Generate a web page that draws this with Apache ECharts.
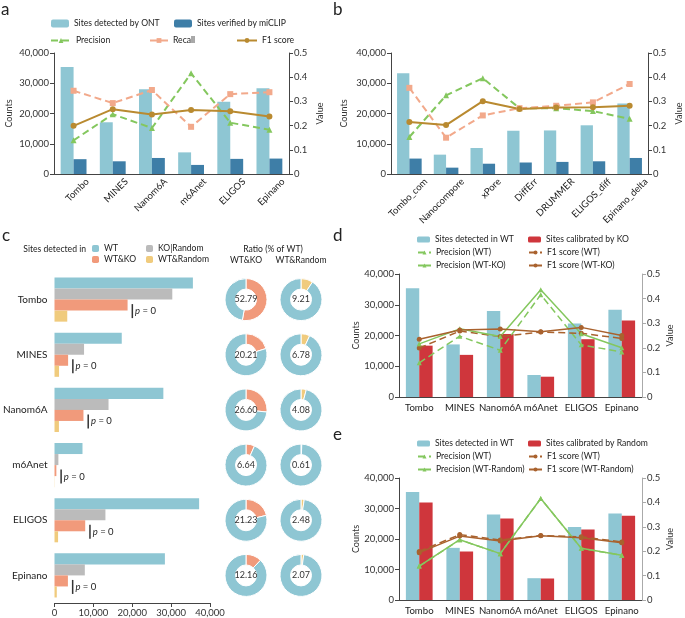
<!DOCTYPE html>
<html>
<head>
<meta charset="utf-8">
<script src="https://cdn.jsdelivr.net/npm/echarts@6/dist/echarts.min.js"></script>
<style>
  html, body { margin: 0; background: #fff; }
  #chart { width: 685px; height: 618px; }
</style>
</head>
<body>
<div id="chart"></div>
<script>
// categories
const tools = ["Tombo", "MINES", "Nanom6A", "m6Anet", "ELIGOS", "Epinano"];
const compTools = ["Tombo_com", "Nanocompore", "xPore", "DiffErr", "DRUMMER", "ELIGOS_diff", "Epinano_delta"];

// panel a / d / e (single-sample tools)
const wtSites = [35400, 17100, 28000, 7150, 23900, 28350];
const miclipSites = [4900, 4200, 5300, 3000, 5000, 5100];
const precisionWT = [0.139, 0.247, 0.19, 0.416, 0.212, 0.183];
const recallWT = [0.344, 0.293, 0.347, 0.195, 0.33, 0.338];
const f1WT = [0.199, 0.268, 0.246, 0.264, 0.259, 0.238];

// panel b (comparative tools)
const ontSitesB = [33300, 6400, 8600, 14300, 14400, 16100, 23300];
const miclipSitesB = [5100, 2100, 3400, 3800, 4000, 4200, 5300];
const precisionB = [0.153, 0.325, 0.396, 0.272, 0.272, 0.26, 0.228];
const recallB = [0.356, 0.15, 0.242, 0.272, 0.282, 0.296, 0.372];
const f1B = [0.215, 0.202, 0.301, 0.269, 0.275, 0.276, 0.282];

// panel c
const wtSitesC = [35600, 17300, 28000, 7200, 37200, 28400];
const koRandomSites = [30300, 7600, 13900, 1000, 13100, 7800];
const wtKoSites = [18800, 3500, 7450, 480, 7900, 3450];
const wtRandomSites = [3280, 1170, 1140, 45, 920, 590];
const ratioWtKo = [52.79, 20.21, 26.60, 6.64, 21.23, 12.16];
const ratioWtRandom = [9.21, 6.78, 4.08, 0.61, 2.48, 2.07];

// panel d
const koCalibrated = [16700, 13700, 20500, 6600, 18800, 24900];
const precisionWtKo = [0.216, 0.277, 0.246, 0.436, 0.257, 0.2];
const f1WtKo = [0.235, 0.272, 0.276, 0.265, 0.283, 0.25];

// panel e
const randomCalibrated = [32000, 15900, 26700, 7050, 23100, 27600];
const precisionWtRandom = [0.139, 0.247, 0.19, 0.416, 0.212, 0.183];
const f1WtRandom = [0.194, 0.262, 0.242, 0.263, 0.255, 0.235];

const col = {
  cyan: "#8EC6D3", blue: "#3E7EA7", green: "#84C75E", salmon: "#F2A98B",
  gold: "#B98A30", red: "#CF363C", brown: "#A9622E", gray: "#BBBBBB",
  orange: "#F19A7B", yellow: "#F0CB7D", ink: "#333", axis: "#444"
};
const FONT = "Lato";
const FS = 9.5;   // tick labels
const LFS = 8.6;  // legends and notes

const commas = v => String(v).replace(/\B(?=(\d{3})+(?!\d))/g, ",");

function countAxis(gridIndex, nameGap) {
  return {
    type: "value", gridIndex, min: 0, max: 40000, interval: 10000,
    name: "Counts", nameLocation: "middle", nameGap, nameRotate: 90,
    nameTextStyle: { fontSize: 9, color: col.ink, fontFamily: FONT },
    axisLine: { show: true, onZero: false, lineStyle: { color: col.axis } },
    axisTick: { show: true, length: 4, lineStyle: { color: col.axis } },
    axisLabel: { fontSize: FS, color: col.ink, fontFamily: FONT, margin: 5, formatter: commas },
    splitLine: { show: false }
  };
}

function valueAxis(gridIndex, nameGap, lineColor) {
  return {
    type: "value", gridIndex, position: "right", min: 0, max: 0.5, interval: 0.1,
    name: "Value", nameLocation: "middle", nameGap, nameRotate: 90,
    nameTextStyle: { fontSize: 9, color: col.ink, fontFamily: FONT },
    axisLine: { show: true, onZero: false, lineStyle: { color: lineColor } },
    axisTick: { show: true, length: 4, lineStyle: { color: lineColor } },
    axisLabel: { fontSize: FS, color: col.ink, fontFamily: FONT, margin: 5,
      formatter: v => v === 0 ? "0" : v.toFixed(1) },
    splitLine: { show: false }
  };
}

function catAxis(gridIndex, data, showLabel) {
  return {
    type: "category", gridIndex, data,
    axisLine: { onZero: false, lineStyle: { color: col.axis } },
    axisTick: { length: 4, lineStyle: { color: col.axis } },
    axisLabel: { show: showLabel, interval: 0, fontSize: 9.6, color: "#222",
      fontFamily: FONT, margin: 6 }
  };
}

// rotated tick labels sit a bit to the right of the category centre in the original
function rotatedLabels(gridIndex, names, shift) {
  return {
    type: "value", gridIndex, position: "bottom",
    min: -0.5 - shift, max: names.length - 0.5 - shift,
    axisLine: { show: false, onZero: false }, axisTick: { show: false }, splitLine: { show: false },
    axisLabel: {
      customValues: names.map((n, i) => i), formatter: v => names[Math.round(v)],
      rotate: 45, fontSize: FS, color: "#222", fontFamily: FONT, margin: 6
    }
  };
}

function bar(name, data, color, xi, yi, gap) {
  return { type: "bar", name, data, xAxisIndex: xi, yAxisIndex: yi,
    barGap: 0, barCategoryGap: gap, itemStyle: { color }, silent: true };
}

function line(name, data, color, xi, yi, opts) {
  return Object.assign({
    type: "line", name, data, xAxisIndex: xi, yAxisIndex: yi, color,
    symbolSize: 6, itemStyle: { color }, silent: true,
    lineStyle: { color, width: 2 }
  }, opts);
}

const dashed = [7, 4];

function lg(name, left, top, w, h) {
  return {
    data: [name], left, top, itemWidth: w, itemHeight: h, itemGap: 0, padding: 0,
    selectedMode: false,
    textStyle: { fontSize: LFS, color: "#222", fontFamily: FONT }
  };
}

// panel c pies
const cTop = 272, cHeight = 331;
const band = cHeight / tools.length;
const pieRow = i => cTop + (i + 0.5) * band;

function donut(value, cx, cy, color) {
  return {
    type: "pie", center: [cx, cy], radius: [10.5, 21], startAngle: 90,
    silent: true, label: { show: false }, labelLine: { show: false },
    itemStyle: { borderColor: "#fff", borderWidth: 1 },
    data: [
      { value, itemStyle: { color },
        label: { show: true, position: "center", formatter: value.toFixed(2),
          fontSize: 9, color: col.ink, fontFamily: FONT } },
      { value: 100 - value, itemStyle: { color: col.cyan } }
    ]
  };
}

const pies = [];
tools.forEach((t, i) => {
  pies.push(donut(ratioWtKo[i], 246, pieRow(i), col.orange));
  pies.push(donut(ratioWtRandom[i], 301, pieRow(i), col.yellow));
});

const txt = (text, x, y, size, align) => ({
  type: "text", x, y,
  style: { text, fontSize: size, fill: "#222", fontFamily: FONT,
    textAlign: align || "left", textVerticalAlign: "middle" }
});

const chart = echarts.init(document.getElementById("chart"), null, { renderer: "canvas" });

chart.setOption({
  animation: false,
  backgroundColor: "#fff",
  textStyle: { fontFamily: FONT },
  grid: [
    { left: 54, top: 53, width: 235, height: 121 },
    { left: 391, top: 53, width: 260, height: 121 },
    { left: 50, top: cTop, width: 160, height: cHeight },
    { left: 399, top: 274, width: 243, height: 123 },
    { left: 399, top: 478, width: 243, height: 122 }
  ],
  xAxis: [
    catAxis(0, tools, false),
    catAxis(1, compTools, false),
    {
      type: "value", gridIndex: 2, min: 0, max: 40000, interval: 10000,
      axisLine: { show: true, onZero: false, lineStyle: { color: col.axis } },
      axisTick: { show: true, length: 4, lineStyle: { color: col.axis } },
      axisLabel: { fontSize: FS, color: col.ink, fontFamily: FONT, margin: 5, formatter: commas },
      splitLine: { show: false }
    },
    catAxis(3, tools, true),
    catAxis(4, tools, true),
    rotatedLabels(0, tools, 0.35),
    rotatedLabels(1, compTools, 0.45)
  ],
  yAxis: [
    countAxis(0, 40), valueAxis(0, 27, col.axis),
    countAxis(1, 42), valueAxis(1, 27, col.axis),
    {
      type: "category", gridIndex: 2, data: tools, inverse: true,
      axisLine: { show: false }, axisTick: { show: false },
      axisLabel: { fontSize: 10, color: "#222", fontFamily: FONT, margin: 7 }
    },
    countAxis(3, 36), valueAxis(3, 24, "#aaa"),
    countAxis(4, 36), valueAxis(4, 24, "#aaa")
  ],
  legend: [
    lg("Sites detected by ONT", 51, 19, 18, 8),
    lg("Sites verified by miCLIP", 174, 19, 18, 8),
    lg("Precision", 50, 36, 20, 6),
    lg("Recall", 149, 36, 18, 6),
    lg("F1 score", 236, 36, 20, 6),

    lg("WT", 92, 244, 7, 7),
    lg("WT&KO", 92, 255, 7, 7),
    lg("KO|Random", 146, 244, 7, 7),
    lg("WT&Random", 146, 255, 7, 7),

    lg("Sites detected in WT", 417, 235, 13, 6),
    lg("Sites calibrated by KO", 528, 235, 13, 6),
    lg("Precision (WT)", 417, 248, 13, 5),
    lg("F1 score (WT)", 528, 248, 13, 5),
    lg("Precision (WT-KO)", 417, 261, 13, 5),
    lg("F1 score (WT-KO)", 528, 261, 13, 5),

    lg("Sites detected in WT", 417, 439, 13, 6),
    lg("Sites calibrated by Random", 528, 439, 13, 6),
    lg("Precision (WT)", 417, 452, 13, 5),
    lg("F1 score (WT)", 528, 452, 13, 5),
    lg("Precision (WT-Random)", 417, 465, 13, 5),
    lg("F1 score (WT-Random)", 528, 465, 13, 5)
  ],
  graphic: [
    txt("a", 1, 10, 17), txt("b", 333, 10, 17), txt("c", 2, 236, 17),
    txt("d", 333, 236, 17), txt("e", 333, 435, 17),
    txt("Sites detected in", 86, 249, LFS, "right"),
    txt("Ratio (% of WT)", 273, 249, LFS, "center"),
    txt("WT&KO", 246, 260, LFS, "center"),
    txt("WT&Random", 301, 260, LFS, "center")
  ],
  series: [
    // a
    bar("Sites detected by ONT", wtSites, col.cyan, 0, 0, "34%"),
    bar("Sites verified by miCLIP", miclipSites, col.blue, 0, 0, "34%"),
    line("Precision", precisionWT, col.green, 0, 1, { symbol: "triangle", lineStyle: { color: col.green, width: 2, type: dashed } }),
    line("Recall", recallWT, col.salmon, 0, 1, { symbol: "rect", lineStyle: { color: col.salmon, width: 2, type: dashed } }),
    line("F1 score", f1WT, col.gold, 0, 1, { symbol: "circle" }),
    // b
    bar("Sites detected by ONT", ontSitesB, col.cyan, 1, 2, "33%"),
    bar("Sites verified by miCLIP", miclipSitesB, col.blue, 1, 2, "33%"),
    line("Precision", precisionB, col.green, 1, 3, { symbol: "triangle", lineStyle: { color: col.green, width: 2, type: dashed } }),
    line("Recall", recallB, col.salmon, 1, 3, { symbol: "rect", lineStyle: { color: col.salmon, width: 2, type: dashed } }),
    line("F1 score", f1B, col.gold, 1, 3, { symbol: "circle" }),
    // c
    bar("WT", wtSitesC, col.cyan, 2, 4, "20%"),
    bar("KO|Random", koRandomSites, col.gray, 2, 4, "20%"),
    Object.assign(bar("WT&KO", wtKoSites, col.orange, 2, 4, "20%"), {
      label: {
        show: true, position: "right", distance: 4, offset: [0, 6],
        formatter: "{l| }{s| }{p|p} = 0",
        fontSize: 9.5, color: "#222", fontFamily: FONT,
        rich: {
          l: { width: 1.5, height: 14, backgroundColor: "#333" },
          s: { width: 2 },
          p: { fontStyle: "italic", fontSize: 9.5, fontFamily: FONT }
        }
      }
    }),
    bar("WT&Random", wtRandomSites, col.yellow, 2, 4, "20%"),
    // d
    bar("Sites detected in WT", wtSites, col.cyan, 3, 5, "34%"),
    bar("Sites calibrated by KO", koCalibrated, col.red, 3, 5, "34%"),
    line("Precision (WT)", precisionWT, col.green, 3, 6, { symbol: "triangle", symbolSize: 5, lineStyle: { color: col.green, width: 1.5, type: dashed } }),
    line("F1 score (WT)", f1WT, col.brown, 3, 6, { symbol: "circle", symbolSize: 5, lineStyle: { color: col.brown, width: 1.5, type: dashed } }),
    line("Precision (WT-KO)", precisionWtKo, col.green, 3, 6, { symbol: "triangle", symbolSize: 5, lineStyle: { color: col.green, width: 1.5 } }),
    line("F1 score (WT-KO)", f1WtKo, col.brown, 3, 6, { symbol: "circle", symbolSize: 5, lineStyle: { color: col.brown, width: 1.5 } }),
    // e
    bar("Sites detected in WT", wtSites, col.cyan, 4, 7, "34%"),
    bar("Sites calibrated by Random", randomCalibrated, col.red, 4, 7, "34%"),
    line("Precision (WT)", precisionWT, col.green, 4, 8, { symbol: "triangle", symbolSize: 5, lineStyle: { color: col.green, width: 1.5, type: dashed } }),
    line("F1 score (WT)", f1WT, col.brown, 4, 8, { symbol: "circle", symbolSize: 5, lineStyle: { color: col.brown, width: 1.5, type: dashed } }),
    line("Precision (WT-Random)", precisionWtRandom, col.green, 4, 8, { symbol: "triangle", symbolSize: 5, lineStyle: { color: col.green, width: 1.5 } }),
    line("F1 score (WT-Random)", f1WtRandom, col.brown, 4, 8, { symbol: "circle", symbolSize: 5, lineStyle: { color: col.brown, width: 1.5 } })
  ].concat(pies)
});
</script>
</body>
</html>
